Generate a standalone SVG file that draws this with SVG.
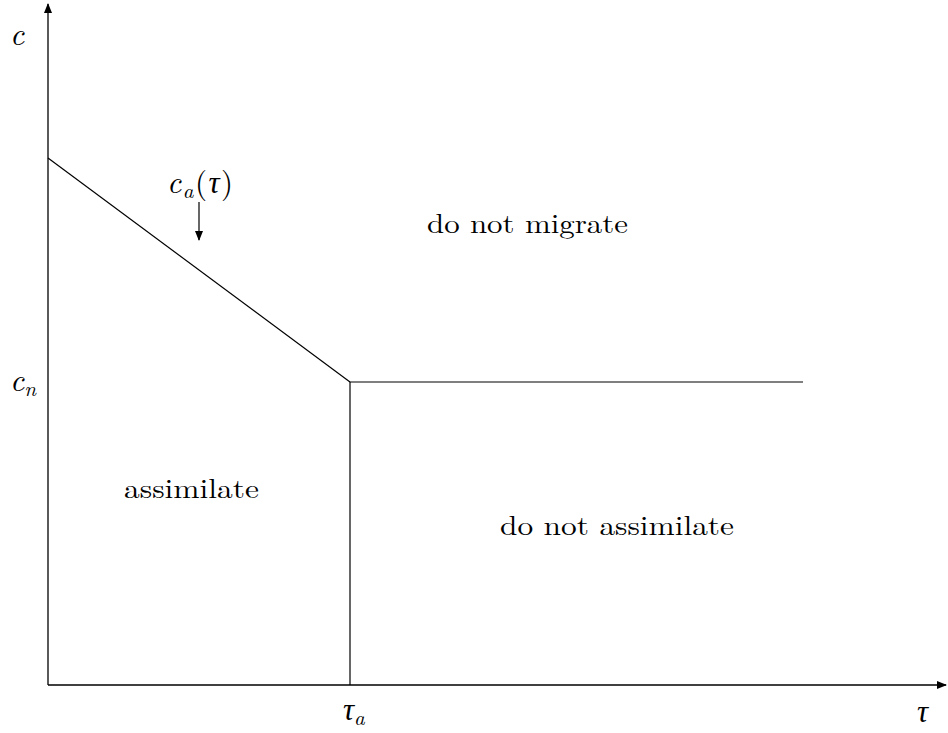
<svg xmlns="http://www.w3.org/2000/svg" width="948" height="733" viewBox="0 0 948 733">
<style>
.ax{stroke:#000;stroke-width:1.3;fill:none}
.ln{stroke:#000;stroke-width:1.2;fill:none}
.t{font-family:"Latin Modern Roman","Liberation Serif","DejaVu Serif",serif;font-size:27px;fill:#000}
.m{font-family:"Latin Modern Roman","Liberation Serif","DejaVu Serif",serif;font-style:italic;font-size:31px;fill:#000}
.s{font-size:21px}
</style>
<defs>
<marker id="ah" markerWidth="10" markerHeight="8" refX="9" refY="4" orient="auto" markerUnits="userSpaceOnUse">
<path d="M0,0 L10,4 L0,8 Z" fill="#000"/>
</marker>
</defs>
<g id="connectors">
<line class="ax" x1="48" y1="685" x2="48" y2="4" marker-end="url(#ah)"/>
<line class="ax" x1="48" y1="685" x2="946" y2="685" marker-end="url(#ah)"/>
<line class="ln" x1="48" y1="158" x2="350" y2="382"/>
<line class="ln" x1="350" y1="382" x2="803" y2="382"/>
<line class="ln" x1="350" y1="382" x2="350" y2="685"/>
<line class="ln" x1="199" y1="202" x2="199" y2="240" marker-end="url(#ah)"/>
</g>
<g id="labels">
<text class="m" x="10" y="45">c</text>
<text class="m" x="10" y="391">c<tspan class="s" dy="5">n</tspan></text>
<text class="m" x="167" y="193" textLength="66" lengthAdjust="spacing">c<tspan class="s" dy="5">a</tspan><tspan dy="-5" font-style="normal">(</tspan>τ<tspan font-style="normal">)</tspan></text>
<text class="m" x="343" y="720">τ<tspan class="s" dy="5">a</tspan></text>
<text class="m" x="917" y="722">τ</text>
</g>
<g id="regions">
<text class="t" x="427" y="233" textLength="201" lengthAdjust="spacingAndGlyphs">do not migrate</text>
<text class="t" x="124" y="498" textLength="135" lengthAdjust="spacingAndGlyphs">assimilate</text>
<text class="t" x="500" y="535" textLength="234" lengthAdjust="spacingAndGlyphs">do not assimilate</text>
</g>
</svg>
